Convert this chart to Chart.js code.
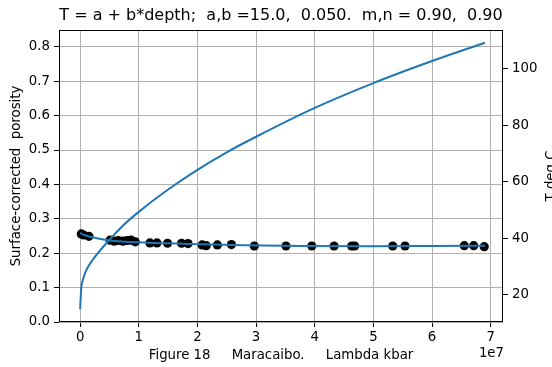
<!DOCTYPE html>
<html>
<head>
<meta charset="utf-8">
<script src="https://cdn.jsdelivr.net/npm/chart.js@4.4.1/dist/chart.umd.min.js"></script>
<style>
  html, body { margin: 0; padding: 0; background: #fff; }
  #wrap { width: 552px; height: 367px; }
</style>
</head>
<body>
<div id="wrap"><canvas id="myChart" width="552" height="367"></canvas></div>
<script>
// porosity data points (lambda in kbar, x axis shown in units of 1e7)
var porLambda = [0.02e7, 0.06e7, 0.15e7, 0.51e7, 0.58e7, 0.65e7, 0.73e7, 0.80e7, 0.87e7, 0.94e7,
                 1.19e7, 1.31e7, 1.49e7, 1.73e7, 1.84e7, 2.08e7, 2.15e7, 2.34e7, 2.58e7, 2.97e7,
                 3.51e7, 3.95e7, 4.33e7, 4.63e7, 4.68e7, 5.33e7, 5.54e7, 6.55e7, 6.71e7, 6.89e7];
var porosity = [0.256, 0.253, 0.249, 0.238, 0.235, 0.237, 0.235, 0.237, 0.238, 0.233,
                0.230, 0.230, 0.229, 0.229, 0.228, 0.224, 0.222, 0.224, 0.225, 0.221,
                0.221, 0.221, 0.221, 0.221, 0.221, 0.221, 0.221, 0.222, 0.222, 0.219];

// fitted porosity curve
var fitLambda = [0, 0.05e7, 0.17e7, 0.51e7, 0.97e7, 1.87e7, 2.8e7, 3.8e7, 5.0e7, 6.0e7, 6.9e7];
var fitPorosity = [0.259, 0.254, 0.248, 0.237, 0.232, 0.227, 0.223, 0.221, 0.220, 0.221, 0.222];

// temperature curve (right axis)
var tLambda = [0, 0.02e7, 0.05e7, 0.1e7, 0.2e7, 0.5e7, 0.75e7, 1.0e7, 1.5e7, 2.0e7,
               2.5e7, 3.0e7, 4.0e7, 5.0e7, 6.0e7, 6.9e7];
var tempC = [15.0, 22.5, 25.5, 28.5, 32.0, 39.5, 44.9, 49.4, 57.3, 64.3,
             70.5, 76.0, 86.2, 95.0, 102.8, 109.3];

var xTicks = [0, 1, 2, 3, 4, 5, 6, 7];
var porTicks = [0.0, 0.1, 0.2, 0.3, 0.4, 0.5, 0.6, 0.7, 0.8];
var tTicks = [20, 40, 60, 80, 100];

var titleText = "T = a + b*depth;  a,b =15.0,  0.050.  m,n = 0.90,  0.90";
var blue = "#1f77b4";
var font = "DejaVu Sans";

function pairs(xs, ys) {
    return xs.map(function(x, i){ return {x: x, y: ys[i]}; });
}

function fixTicks(list) {
    return list.map(function(v){ return {value: v}; });
}

var extras = {
    id: "extras",
    afterDraw: function(chart) {
        var ctx = chart.ctx;
        var a = chart.chartArea;
        ctx.save();
        // frame
        ctx.strokeStyle = "#000";
        ctx.lineWidth = 1;
        ctx.strokeRect(Math.round(a.left) + 0.5, Math.round(a.top) + 0.5,
                       Math.round(a.right - a.left) - 1, Math.round(a.bottom - a.top) - 1);
        ctx.fillStyle = "#000";
        // title
        ctx.font = "16px '" + font + "'";
        ctx.textAlign = "center";
        ctx.textBaseline = "middle";
        ctx.fillText(titleText, (a.left + a.right) / 2, 16);
        // offset text
        ctx.font = "13.3px '" + font + "'";
        ctx.textAlign = "right";
        ctx.fillText("1e7", a.right + 1, 354);
        // right axis label, reads bottom to top
        ctx.translate(545, (a.top + a.bottom) / 2);
        ctx.rotate(-Math.PI / 2);
        ctx.textAlign = "center";
        ctx.textBaseline = "top";
        ctx.fillText("T deg C", 0, 0);
        ctx.restore();
    }
};

var ctx = document.getElementById("myChart").getContext("2d");
var myChart = new Chart(ctx, {
    type: "scatter",
    data: {
        datasets: [
            {
                label: "T",
                data: pairs(tLambda, tempC),
                yAxisID: "yT",
                showLine: true,
                borderColor: blue,
                borderWidth: 2,
                pointRadius: 0,
                cubicInterpolationMode: "monotone",
                order: 1
            },
            {
                label: "fit",
                data: pairs(fitLambda, fitPorosity),
                yAxisID: "y",
                showLine: true,
                borderColor: blue,
                borderWidth: 2,
                pointRadius: 0,
                cubicInterpolationMode: "monotone",
                order: 2
            },
            {
                label: "porosity",
                data: pairs(porLambda, porosity),
                yAxisID: "y",
                backgroundColor: "#000",
                borderColor: "#000",
                borderWidth: 0,
                pointRadius: 4.6,
                order: 3
            }
        ]
    },
    options: {
        responsive: false,
        animation: false,
        devicePixelRatio: 1,
        layout: { padding: { top: 30, left: 0, right: 0, bottom: 0 } },
        plugins: {
            legend: { display: false },
            tooltip: { enabled: false },
            title: { display: false }
        },
        scales: {
            x: {
                type: "linear",
                position: "bottom",
                min: -0.36e7,
                max: 7.21e7,
                afterBuildTicks: function(scale){ scale.ticks = fixTicks(xTicks.map(function(v){ return v * 1e7; })); },
                afterFit: function(scale){ scale.height = 45; },
                ticks: {
                    color: "#000",
                    font: { family: font, size: 13.3 },
                    padding: 3,
                    maxRotation: 0,
                    callback: function(v){ return Math.round(v / 1e7).toString(); }
                },
                grid: { color: "#b0b0b0", lineWidth: 1, tickColor: "#000", tickLength: 5 },
                border: { display: false },
                title: {
                    display: true,
                    text: "Figure 18     Maracaibo.     Lambda kbar",
                    color: "#000",
                    font: { family: font, size: 13.3 },
                    padding: { top: 4, bottom: 3 }
                }
            },
            y: {
                type: "linear",
                position: "left",
                min: 0,
                max: 0.849,
                afterBuildTicks: function(scale){ scale.ticks = fixTicks(porTicks); },
                afterFit: function(scale){ scale.width = 59; },
                ticks: {
                    color: "#000",
                    font: { family: font, size: 13.3 },
                    padding: 4,
                    callback: function(v){ return v.toFixed(1); }
                },
                grid: { color: "#b0b0b0", lineWidth: 1, tickColor: "#000", tickLength: 5 },
                border: { display: false },
                title: {
                    display: true,
                    text: "Surface-corrected  porosity",
                    color: "#000",
                    font: { family: font, size: 13.3 },
                    padding: { top: 9, bottom: 0 }
                }
            },
            yT: {
                type: "linear",
                position: "right",
                min: 10.4,
                max: 113.8,
                afterBuildTicks: function(scale){ scale.ticks = fixTicks(tTicks); },
                afterFit: function(scale){ scale.width = 49; },
                ticks: {
                    color: "#000",
                    font: { family: font, size: 13.3 },
                    padding: 4,
                    callback: function(v){ return v.toString(); }
                },
                grid: { drawOnChartArea: false, tickColor: "#000", tickLength: 5 },
                border: { display: false }
            }
        }
    },
    plugins: [extras]
});
</script>
</body>
</html>
